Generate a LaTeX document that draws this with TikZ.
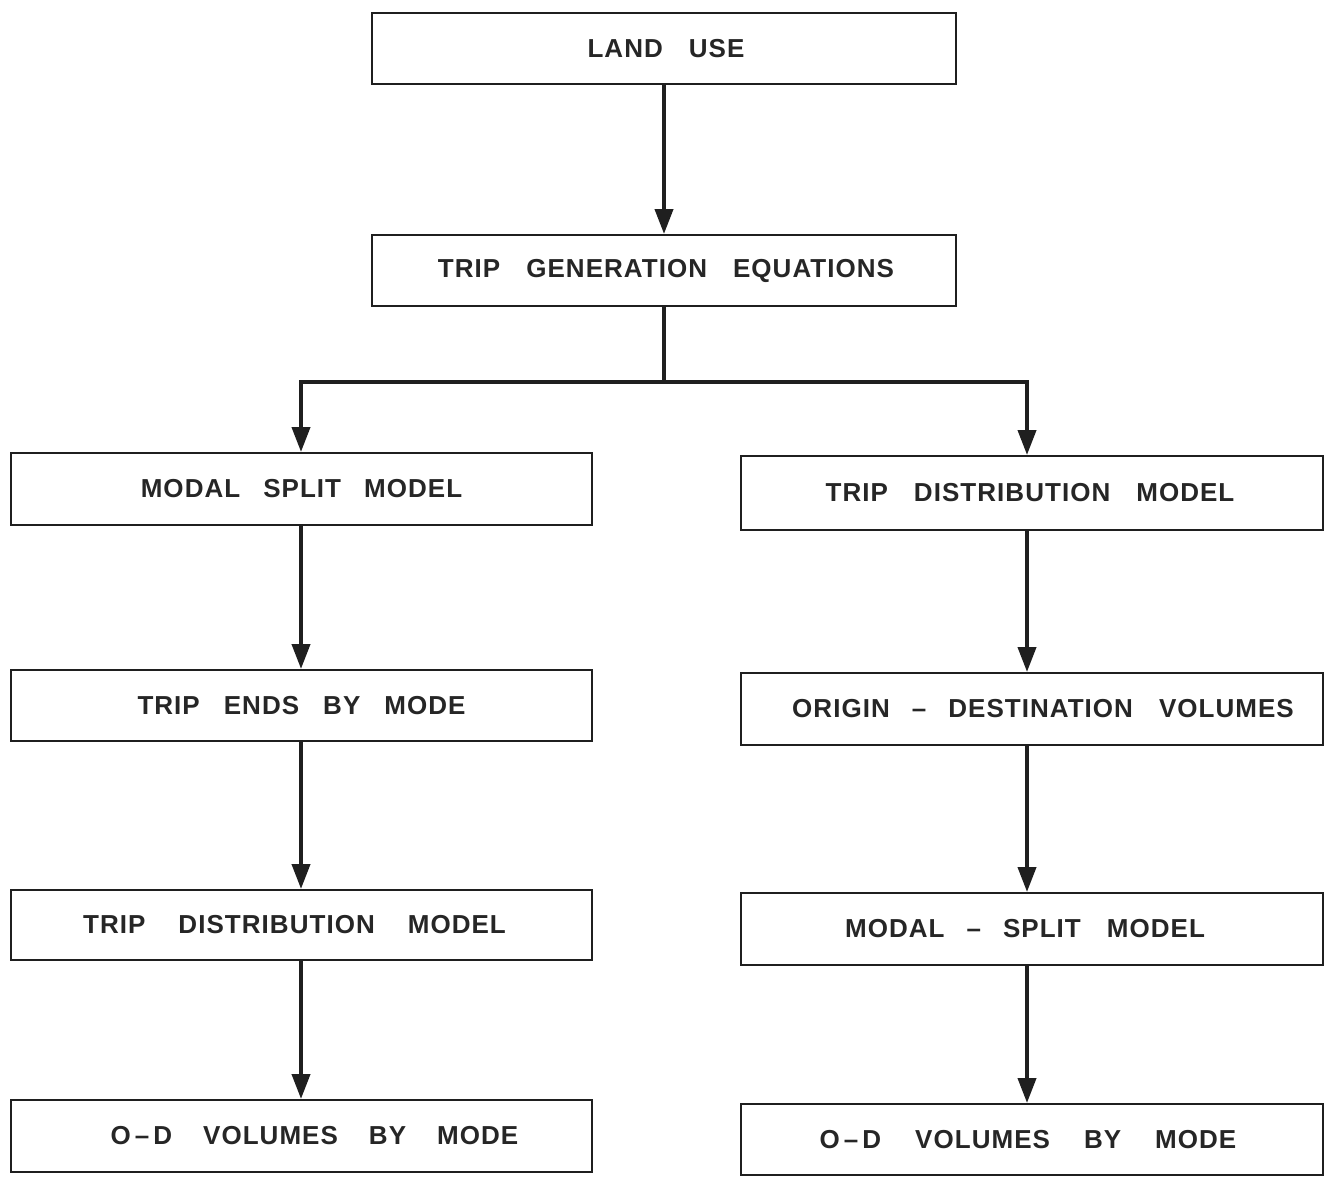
\documentclass[tikz,border=0pt]{standalone}
\usepackage{fontspec}
\setmainfont{Liberation Sans}[LetterSpace=4]
\usetikzlibrary{arrows.meta}
\newcommand\wg[1][26pt]{\hspace{#1}}
\newcommand\dashgap{\hspace{22pt}–\hspace{22pt}}
\newcommand\sh[2]{\hspace*{#1}\hspace*{#1}#2}
\begin{document}
\begin{tikzpicture}[x=1pt,y=-1pt,
  boxst/.style={draw=black!88, line width=2pt, inner sep=0pt, text=black!85,
    font=\fontsize{26}{30}\selectfont\bfseries},
  arr/.style={draw=black!88, line width=4pt, -{Triangle[length=25pt,width=18pt]}},
]
\useasboundingbox (0,0) rectangle (1332,1177);
\node[boxst, minimum width=584pt, minimum height=71pt] (lu) at (664,49) {\sh{2pt}{LAND\wg USE}};
\node[boxst, minimum width=584pt, minimum height=71pt] (tg) at (664,270.5) {\sh{2pt}{TRIP\wg GENERATION\wg EQUATIONS}};
\node[boxst, minimum width=581pt, minimum height=72pt] (ms) at (301.5,489) {MODAL\wg[23pt]SPLIT\wg[23pt]MODEL};
\node[boxst, minimum width=582pt, minimum height=74pt] (td) at (1032,493) {\sh{-2pt}{TRIP\wg DISTRIBUTION\wg MODEL}};
\node[boxst, minimum width=581pt, minimum height=71pt] (te) at (301.5,705.5) {TRIP\wg[24pt]ENDS\wg[24pt]BY\wg[24pt]MODE};
\node[boxst, minimum width=582pt, minimum height=72pt] (od) at (1032,709) {\sh{11pt}{ORIGIN\dashgap DESTINATION\wg VOLUMES}};
\node[boxst, minimum width=581pt, minimum height=70pt] (td2) at (301.5,925) {\sh{-7pt}{TRIP\wg[33pt]DISTRIBUTION\wg[33pt]MODEL}};
\node[boxst, minimum width=582pt, minimum height=72pt] (ms2) at (1032,929) {\sh{-7pt}{MODAL\dashgap SPLIT\wg MODEL}};
\node[boxst, minimum width=581pt, minimum height=72pt] (ov1) at (301.5,1136) {\sh{13pt}{O\hspace{4pt}–\hspace{4pt}D\wg[31pt]VOLUMES\wg[31pt]BY\wg[31pt]MODE}};
\node[boxst, minimum width=582pt, minimum height=71pt] (ov2) at (1032,1139.5) {\sh{-4pt}{O\hspace{4pt}–\hspace{4pt}D\wg[34pt]VOLUMES\wg[34pt]BY\wg[34pt]MODE}};
\coordinate (j) at (664,382);
\coordinate (lx) at (301,0);
\coordinate (rx) at (1027,0);
\draw[arr] (lu.south) -- (tg.north);
\draw[arr] (tg.south) -- (j) -| (ms.north -| lx);
\draw[arr] (j) -| (td.north -| rx);
\draw[arr] (ms.south -| lx) -- (te.north -| lx);
\draw[arr] (te.south -| lx) -- (td2.north -| lx);
\draw[arr] (td2.south -| lx) -- (ov1.north -| lx);
\draw[arr] (td.south -| rx) -- (od.north -| rx);
\draw[arr] (od.south -| rx) -- (ms2.north -| rx);
\draw[arr] (ms2.south -| rx) -- (ov2.north -| rx);
\end{tikzpicture}
\end{document}
